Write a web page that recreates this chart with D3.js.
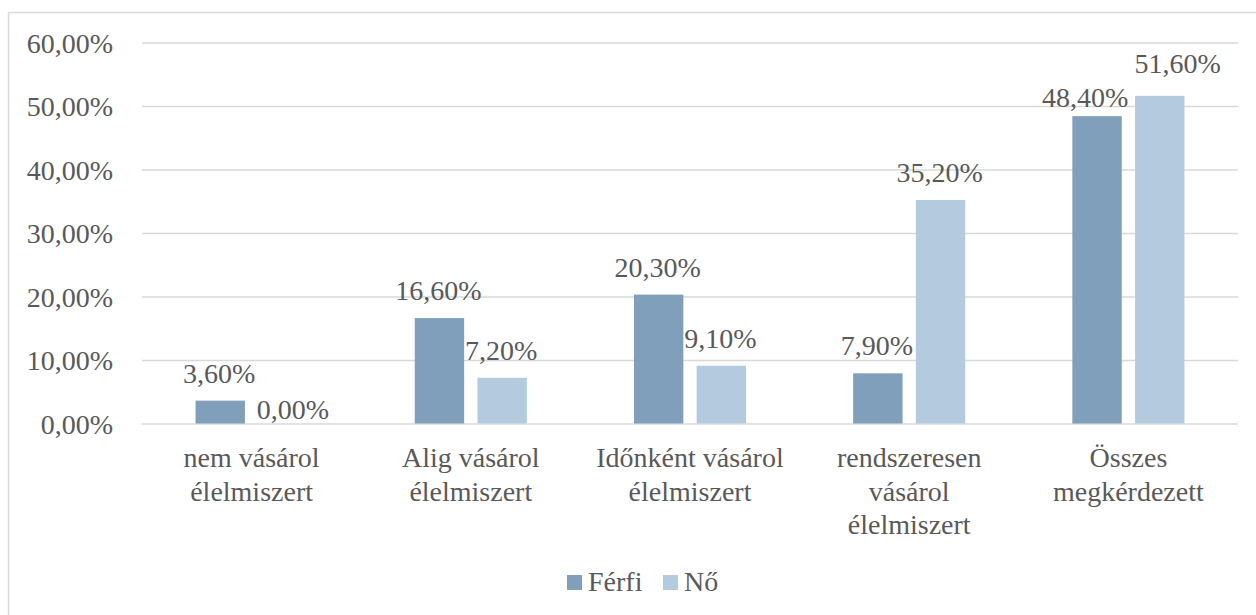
<!DOCTYPE html>
<html>
<head>
<meta charset="utf-8">
<script src="https://cdn.jsdelivr.net/npm/d3@7"></script>
<style>
  html, body { margin: 0; padding: 0; background: #fff; }
  svg { display: block; }
</style>
</head>
<body>
<svg id="chart" width="1256" height="615"></svg>
<script>
// ---- data ----
const categories = [
  ["nem vásárol", "élelmiszert"],
  ["Alig vásárol", "élelmiszert"],
  ["Időnként vásárol", "élelmiszert"],
  ["rendszeresen", "vásárol", "élelmiszert"],
  ["Összes", "megkérdezett"]
];
const seriesNames = ["Férfi", "Nő"];
const ferfiValues = [3.6, 16.6, 20.3, 7.9, 48.4];
const noValues = [0.0, 7.2, 9.1, 35.2, 51.6];
const yTicks = [0, 10, 20, 30, 40, 50, 60];
const colors = ["#7f9fba", "#b4cbdf"];

const FONT = '"Liberation Serif"';
const TXT = "#595959";
const FS = 28;
const fmt = v => v.toFixed(2).replace(".", ",") + "%";

const svg = d3.select("#chart");
const W = 1256, H = 615;

// outer border (only top & left visible in reference)
svg.append("line").attr("x1", 8.5).attr("x2", W).attr("y1", 12.5).attr("y2", 12.5)
  .attr("stroke", "#d9d9d9").attr("stroke-width", 1.5);
svg.append("line").attr("x1", 8.5).attr("x2", 8.5).attr("y1", 12.5).attr("y2", H)
  .attr("stroke", "#d9d9d9").attr("stroke-width", 1.5);

const plot = { left: 142, right: 1238, top: 42.5, bottom: 423.5 };

const x0 = d3.scaleBand().domain(d3.range(categories.length))
  .range([plot.left, plot.right]).paddingInner(0).paddingOuter(0);
const y = d3.scaleLinear().domain([0, 60]).range([plot.bottom, plot.top]);

const barW = 49.4, gap = 13.3;
const x1 = d3.scaleBand().domain([0, 1]).range([0, barW * 2 + gap]).paddingInner(gap / (barW + gap)).paddingOuter(0);
const groupOffset = (x0.bandwidth() - (barW * 2 + gap)) / 2;

// gridlines + y tick labels
const yAxis = d3.axisLeft(y).tickValues(yTicks).tickSize(-(plot.right - plot.left)).tickFormat(d => fmt(d)).tickPadding(29);
const gY = svg.append("g").attr("transform", `translate(${plot.left},0)`).call(yAxis);
gY.attr("font-family", FONT).attr("font-size", FS);
gY.select(".domain").remove();
gY.selectAll(".tick line").attr("stroke", "#d9d9d9").attr("stroke-width", 1.5);
gY.selectAll(".tick text").attr("fill", TXT).attr("dy", "0.35em");

const series = [ferfiValues, noValues];

// label placement nudges (Excel moved overlapping labels apart)
const nudge = (si, i, d) => {
  if (d === 0) return { dx: 10, dy: -5, base: "zero" };
  if (i === 4 && si === 0) return { dx: -12, dy: -9 };
  if (i === 4 && si === 1) return { dx: 18, dy: -23 };
  return { dx: -1, dy: -18 };
};

series.forEach((vals, si) => {
  const g = svg.append("g");
  g.selectAll("rect").data(vals).join("rect")
    .attr("x", (d, i) => x0(i) + groupOffset + x1(si))
    .attr("y", d => y(d))
    .attr("width", x1.bandwidth())
    .attr("height", d => y(0) - y(d))
    .attr("fill", colors[si]);
  g.selectAll("text").data(vals).join("text")
    .attr("x", (d, i) => x0(i) + groupOffset + x1(si) + x1.bandwidth() / 2 + nudge(si, i, d).dx)
    .attr("y", (d, i) => y(d) + nudge(si, i, d).dy)
    .attr("text-anchor", "middle")
    .attr("font-family", FONT)
    .attr("font-size", FS)
    .attr("fill", TXT)
    .text(d => fmt(d));
});

// category labels
const catG = svg.append("g");
categories.forEach((lines, i) => {
  const cx = x0(i) + x0.bandwidth() / 2;
  const t = catG.append("text")
    .attr("x", cx)
    .attr("y", 467)
    .attr("text-anchor", "middle")
    .attr("font-family", FONT)
    .attr("font-size", FS)
    .attr("fill", TXT);
  lines.forEach((ln, j) => {
    t.append("tspan").attr("x", cx).attr("y", 467 + j * 33.5).text(ln);
  });
});

// legend
const legend = svg.append("g");
const legendItems = [
  { name: seriesNames[0], color: colors[0], x: 567 },
  { name: seriesNames[1], color: colors[1], x: 663 }
];
legendItems.forEach(it => {
  legend.append("rect").attr("x", it.x).attr("y", 575).attr("width", 15).attr("height", 15).attr("fill", it.color);
  legend.append("text").attr("x", it.x + 21).attr("y", 591)
    .attr("font-family", FONT).attr("font-size", FS).attr("fill", TXT).text(it.name);
});
</script>
</body>
</html>
